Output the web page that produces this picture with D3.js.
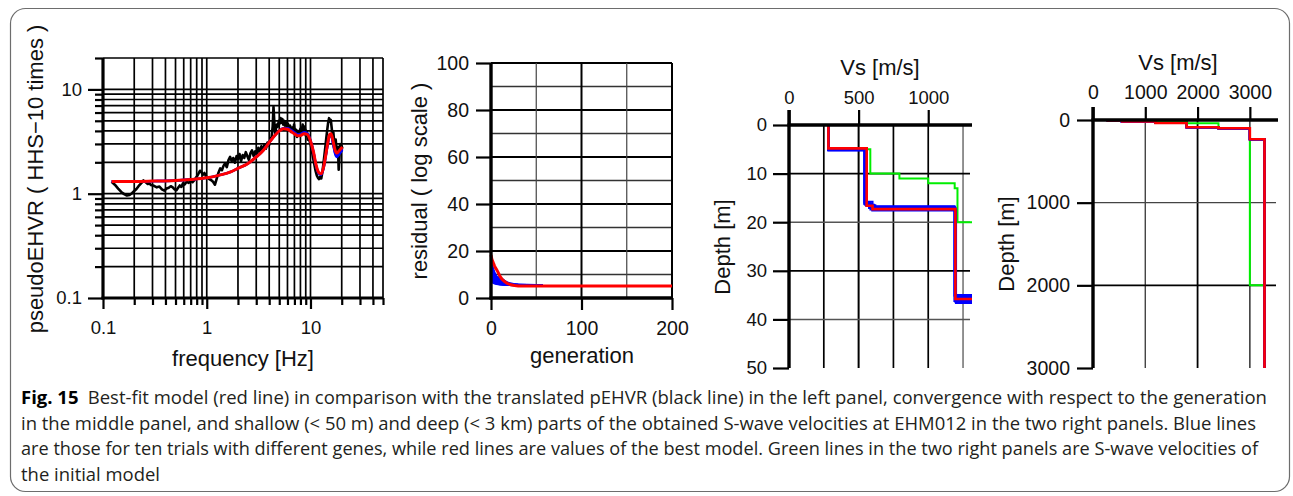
<!DOCTYPE html>
<html>
<head>
<meta charset="utf-8">
<script src="https://cdn.jsdelivr.net/npm/d3@7"></script>
<style>
  body { margin: 0; background: #fff; }
  svg { display: block; }
</style>
</head>
<body>
<svg id="fig" width="1293" height="496"></svg>
<script>
// ---------- Panel 1: pseudo EHVR vs frequency ----------
const hvFreq = [0.121,0.13,0.14,0.15,0.16,0.17,0.18,0.19,0.2,0.21,0.22,0.235,0.245,0.255,0.27,0.28,0.29,0.31,0.33,0.35,0.37,0.39,0.41,0.43,0.45,0.47,0.49,0.51,0.53,0.55,0.57,0.59,0.61,0.64,0.67,0.7,0.73,0.76,0.8,0.83,0.86,0.89,0.92,0.95,0.98,1.02,1.06,1.1,1.15,1.2,1.25,1.3,1.35,1.4,1.45,1.5,1.56,1.62,1.68,1.74,1.8,1.87,1.94,2.0,2.07,2.14,2.22,2.3,2.38,2.46,2.55,2.64,2.73,2.83,2.93,3.03,3.14,3.25,3.36,3.48,3.6,3.72,3.85,3.98,4.1,4.22,4.32,4.4,4.48,4.56,4.65,4.75,4.85,4.95,5.05,5.15,5.25,5.35,5.45,5.55,5.65,5.75,5.9,6.05,6.2,6.35,6.5,6.65,6.8,6.95,7.1,7.25,7.4,7.6,7.8,8.0,8.2,8.4,8.6,8.8,9.0,9.2,9.4,9.6,9.8,10.0,10.3,10.6,10.9,11.2,11.5,11.8,12.1,12.4,12.7,13.0,13.3,13.6,13.9,14.2,14.5,14.8,15.1,15.4,15.7,16.0,16.3,16.6,16.9,17.2,17.5,17.8,18.1,18.4,18.7,19.0,19.3,19.6,19.9,20.3];
const hvObserved = [1.30,1.22,1.12,1.04,0.99,0.96,0.97,1.01,1.06,1.11,1.18,1.27,1.34,1.30,1.24,1.26,1.21,1.19,1.15,1.17,1.10,1.07,1.12,1.14,1.18,1.15,1.10,1.08,1.14,1.20,1.16,1.26,1.22,1.30,1.27,1.33,1.29,1.35,1.45,1.55,1.66,1.60,1.52,1.58,1.48,1.42,1.38,1.35,1.30,1.22,1.40,1.60,1.75,1.68,1.85,1.95,1.80,2.10,2.25,2.05,2.20,1.98,2.30,2.15,2.40,2.05,2.35,2.20,2.50,2.30,2.10,2.45,2.60,2.30,2.55,2.40,2.75,2.50,2.85,2.60,2.95,2.70,3.10,2.90,3.30,3.50,4.40,6.80,4.90,3.80,4.20,4.60,4.40,5.00,4.70,5.30,4.80,5.20,4.60,5.00,4.50,4.90,4.40,4.70,4.20,4.50,3.90,4.30,4.00,4.60,3.70,4.10,3.50,4.00,3.60,4.20,3.90,4.60,4.00,4.40,3.60,4.00,3.30,3.50,3.20,3.00,2.60,2.20,1.90,1.65,1.50,1.42,1.38,1.45,1.40,1.60,1.90,2.30,2.80,3.40,4.10,4.80,5.30,4.90,5.10,4.30,3.60,3.90,3.20,2.90,3.30,2.70,2.40,2.80,1.70,2.20,3.00,2.50,2.90,2.70];
const fitFreq = [0.121,0.2,0.3,0.5,0.7,1.0,1.3,1.7,2.0,2.5,3.0,3.5,4.0,4.5,5.0,5.5,6.0,6.5,7.0,7.5,8.0,8.7,9.3,10.0,10.7,11.3,12.0,12.6,13.3,14.0,14.7,15.3,15.8,16.5,17.3,18.0,19.0,20.3];
const fitBest = [1.31,1.31,1.32,1.34,1.37,1.42,1.50,1.62,1.75,1.95,2.25,2.60,3.10,3.60,4.00,4.20,4.15,3.95,3.75,3.60,3.62,3.75,3.70,3.20,2.50,1.90,1.60,1.55,1.75,2.30,3.10,3.70,3.75,3.20,2.60,2.45,2.60,2.80];
const fitTrialA = [1.31,1.31,1.32,1.34,1.37,1.42,1.50,1.62,1.75,1.95,2.25,2.60,3.10,3.60,4.00,4.25,4.25,4.08,3.88,3.72,3.74,3.88,3.82,3.25,2.50,1.88,1.58,1.53,1.73,2.28,3.05,3.62,3.62,3.05,2.45,2.30,2.45,2.68];
const fitTrialB = [1.31,1.31,1.32,1.34,1.37,1.42,1.50,1.62,1.75,1.95,2.25,2.60,3.10,3.60,4.00,4.22,4.20,4.02,3.82,3.66,3.68,3.82,3.78,3.22,2.48,1.86,1.57,1.52,1.72,2.26,3.02,3.60,3.58,3.00,2.40,2.25,2.40,2.62];
const hvXTicks = [0.1, 1, 10];
const hvYTicks = [0.1, 1, 10];

// ---------- Panel 2: residual vs generation ----------
const bestGen = [0,1,2,3,4,5,6,8,10,12,15,18,22,26,30,200];
const bestResidual = [18.3,16.5,15.5,14.5,13.6,12.8,12.2,10.8,9.2,8.1,7.0,6.2,5.6,5.3,5.15,5.1];
const trialGen = [0,2,4,6,8,10,13,16,20,25,30,40,50,57];
const trialResidual = [
  [14.0,11.5,9.8,8.6,7.8,7.1,6.5,6.1,5.8,5.6,5.5,5.4,5.35,5.3],
  [12.5,10.2,8.7,7.6,6.9,6.4,6.0,5.8,5.6,5.5,5.45,5.4,5.35,5.35],
  [10.8,8.9,7.6,6.8,6.3,6.0,5.8,5.7,5.6,5.55,5.5,5.45,5.4,5.4],
  [9.2,7.8,6.9,6.3,6.0,5.9,5.8,5.7,5.65,5.6,5.55,5.5,5.45,5.45],
  [16.0,12.8,10.6,9.2,8.2,7.5,6.8,6.3,5.9,5.6,5.45,5.35,5.3,5.3],
  [8.0,7.0,6.5,6.2,6.0,5.9,5.8,5.75,5.7,5.65,5.6,5.55,5.5,5.5],
  [13.2,10.8,9.5,8.8,8.6,8.3,7.4,6.6,6.0,5.7,5.55,5.45,5.4,5.4],
  [11.6,9.6,8.1,7.2,6.6,6.2,5.9,5.7,5.55,5.45,5.4,5.35,5.3,5.3],
  [15.2,12.0,9.9,8.9,8.8,8.6,7.9,7.0,6.3,5.9,5.6,5.45,5.35,5.3],
  [7.2,6.6,6.2,6.0,5.9,5.8,5.75,5.7,5.65,5.6,5.55,5.5,5.5,5.5]
];
const genTicks = [0, 100, 200];
const residualTicks = [0, 20, 40, 60, 80, 100];

// ---------- Panels 3 & 4: S-wave velocity profiles ----------
// layer velocities [m/s] and layer bottom depths [m]; the last velocity is the half-space
const bestVs = [283, 558, 600, 1195, 1790, 2400, 3000, 3280];
const bestBottom = [4.8, 16.6, 17.3, 35.8, 88, 100, 233];
const initVs = [283, 584, 793, 1000, 1190, 1210, 1800, 2400, 3000, 3280];
const initBottom = [5, 10, 11, 12, 13, 20, 40, 100, 2000];
const trialVs = [
  [283, 540, 590, 1190, 1790, 2400, 3000, 3280],
  [283, 545, 575, 1195, 1790, 2400, 3000, 3280],
  [283, 550, 610, 1200, 1790, 2400, 3000, 3280],
  [283, 542, 600, 1188, 1790, 2400, 3000, 3280],
  [283, 553, 620, 1192, 1790, 2400, 3000, 3280],
  [283, 548, 585, 1198, 1790, 2400, 3000, 3280],
  [283, 544, 595, 1190, 1790, 2400, 3000, 3280],
  [283, 556, 605, 1196, 1790, 2400, 3000, 3280],
  [283, 547, 580, 1193, 1790, 2400, 3000, 3280],
  [283, 551, 598, 1199, 1790, 2400, 3000, 3280]
];
const trialBottom = [
  [5.2, 16.2, 16.8, 35.0, 88, 100, 233],
  [5.0, 16.0, 17.1, 35.3, 88, 100, 233],
  [5.1, 16.4, 17.5, 36.5, 88, 100, 233],
  [5.2, 15.8, 16.7, 36.2, 88, 100, 233],
  [5.0, 16.5, 17.0, 35.6, 88, 100, 233],
  [5.1, 16.1, 17.4, 36.0, 88, 100, 233],
  [5.2, 16.3, 16.9, 35.2, 88, 100, 233],
  [5.0, 16.6, 17.2, 36.4, 88, 100, 233],
  [5.1, 15.9, 17.0, 35.5, 88, 100, 233],
  [5.0, 16.4, 17.6, 36.6, 88, 100, 233]
];
const shallowVsTicks = [0, 500, 1000];
const shallowDepthTicks = [0, 10, 20, 30, 40, 50];
const deepVsTicks = [0, 1000, 2000, 3000];
const deepDepthTicks = [0, 1000, 2000, 3000];

const captionHead = "Fig. 15";
const captionFirst = "Best-fit model (red line) in comparison with the translated pEHVR (black line) in the left panel, convergence with respect to the generation";
const captionLines = [
  "in the middle panel, and shallow (< 50 m) and deep (< 3 km) parts of the obtained S-wave velocities at EHM012 in the two right panels. Blue lines",
  "are those for ten trials with different genes, while red lines are values of the best model. Green lines in the two right panels are S-wave velocities of",
  "the initial model"
];

// ---------- drawing ----------
const svg = d3.select("#fig");
const FONT = "'Liberation Sans', Arial, sans-serif";
const LABEL = 22;
const intFmt = d3.format("d");

// outer frame
svg.append("rect").attr("x", 10.5).attr("y", 8.5).attr("width", 1279).attr("height", 483)
  .attr("rx", 15).attr("fill", "none").attr("stroke", "#6d6d6d").attr("stroke-width", 1.2);

function styleAxis(g, size, width) {
  g.select(".domain").remove();
  g.selectAll("line").attr("stroke", "#000").attr("stroke-width", width || 2.2);
  g.selectAll("text").attr("fill", "#111").style("font-family", FONT).style("font-size", size + "px");
}
function hline(g, x1, x2, y, w, c) {
  g.append("line").attr("x1", x1).attr("x2", x2).attr("y1", y).attr("y2", y)
    .attr("stroke", c || "#000").attr("stroke-width", w);
}
function vline(g, x, y1, y2, w, c) {
  g.append("line").attr("x1", x).attr("x2", x).attr("y1", y1).attr("y2", y2)
    .attr("stroke", c || "#000").attr("stroke-width", w);
}
function label(g, txt, x, y, rotate) {
  const t = g.append("text").text(txt).attr("text-anchor", "middle")
    .style("font-family", FONT).style("font-size", LABEL + "px").attr("fill", "#111");
  if (rotate) t.attr("transform", `translate(${x},${y}) rotate(-90)`);
  else t.attr("x", x).attr("y", y);
  return t;
}

// ===== Panel 1 =====
{
  const g = svg.append("g");
  const x = d3.scaleLog().domain([0.1, 50]).range([103, 383]);
  const y = d3.scaleLog().domain([0.1, 20]).range([298, 58]);
  const [x0, x1] = x.range(), [y0, y1] = y.range();

  x.ticks().forEach(v => vline(g, x(v), y1, y0, 1.7));
  y.ticks().forEach(v => hline(g, x0, x1, y(v), 1.7));

  const minorX = x.ticks().filter(v => !hvXTicks.includes(v));
  const minorY = y.ticks().filter(v => !hvYTicks.includes(v));

  g.append("g").attr("transform", `translate(0,${y0})`)
    .call(d3.axisBottom(x).tickValues(minorX).tickSize(7).tickFormat(""))
    .call(a => styleAxis(a, 18.5));
  g.append("g").attr("transform", `translate(0,${y0})`)
    .call(d3.axisBottom(x).tickValues(hvXTicks).tickSize(11).tickPadding(12).tickFormat(d3.format("~g")))
    .call(a => styleAxis(a, 18.5));
  g.append("g").attr("transform", `translate(${x0},0)`)
    .call(d3.axisLeft(y).tickValues(minorY).tickSize(8).tickFormat(""))
    .call(a => styleAxis(a, 18.5));
  g.append("g").attr("transform", `translate(${x0},0)`)
    .call(d3.axisLeft(y).tickValues(hvYTicks).tickSize(15).tickPadding(6).tickFormat(d3.format("~g")))
    .call(a => styleAxis(a, 18.5));

  vline(g, x0, y1, y0 + 1.5, 3.2);
  hline(g, x0 - 1.5, x1, y0, 3.2);

  const obs = hvFreq.map((f, i) => [f, hvObserved[i]]);
  const line = d3.line().x(d => x(d[0])).y(d => y(d[1]));
  const smooth = d3.line().x(d => x(d[0])).y(d => y(d[1])).curve(d3.curveMonotoneX);
  g.append("path").attr("d", line(obs)).attr("fill", "none").attr("stroke", "#000")
    .attr("stroke-width", 2.6).attr("stroke-linejoin", "round");
  [fitTrialA, fitTrialB].forEach(tr => {
    g.append("path").attr("d", smooth(fitFreq.map((f, i) => [f, tr[i]])))
      .attr("fill", "none").attr("stroke", "#0000ff").attr("stroke-width", 2.4);
  });
  g.append("path").attr("d", smooth(fitFreq.map((f, i) => [f, fitBest[i]])))
    .attr("fill", "none").attr("stroke", "#ff0000").attr("stroke-width", 3);

  label(g, "frequency [Hz]", 243, 366);
  label(g, "pseudoEHVR ( HHS\u221210 times )", 43, 179, true);
}

// ===== Panel 2 =====
{
  const g = svg.append("g");
  const x = d3.scaleLinear().domain([0, 200]).range([491, 672]);
  const y = d3.scaleLinear().domain([0, 100]).range([298, 63]);
  const [x0, x1] = x.range(), [y0, y1] = y.range();

  d3.range(10, 101, 10).forEach(v => hline(g, x0, x1, y(v), v % 20 === 0 ? 2 : 1.3, v % 20 === 0 ? "#000" : "#333"));
  d3.range(50, 201, 50).forEach(v => vline(g, x(v), y1, y0, v % 100 === 0 ? 2 : 1.2, v % 100 === 0 ? "#000" : "#444"));

  g.append("g").attr("transform", `translate(${x0},0)`)
    .call(d3.axisLeft(y).tickValues(residualTicks).tickSize(15).tickPadding(7))
    .call(a => styleAxis(a, 19.5));
  g.append("g").attr("transform", `translate(0,${y0})`)
    .call(d3.axisBottom(x).tickValues(genTicks).tickSize(12).tickPadding(11))
    .call(a => styleAxis(a, 19.5));

  const line = d3.line().x(d => x(d[0])).y(d => y(d[1]));
  trialResidual.forEach(tr => {
    g.append("path").attr("d", line(trialGen.map((gn, i) => [gn, tr[i]])))
      .attr("fill", "none").attr("stroke", "#0000ff").attr("stroke-width", 2.2);
  });
  g.append("path").attr("d", line(bestGen.map((gn, i) => [gn, bestResidual[i]])))
    .attr("fill", "none").attr("stroke", "#ff0000").attr("stroke-width", 3);

  vline(g, x0, y1, y0 + 1.5, 3.4);
  hline(g, x0 - 1.5, x1 + 1, y0, 3.4);

  label(g, "generation", 582, 363);
  label(g, "residual ( log scale )", 427, 181, true);
}

// step path for a layered velocity profile
function profilePath(x, y, vs, bottom, maxDepth) {
  let d = `M${x(vs[0])},${y(0)}`;
  for (let i = 0; i < vs.length; i++) {
    const z = i < bottom.length ? bottom[i] : maxDepth;
    d += `V${y(z)}`;
    if (i + 1 < vs.length) d += `H${x(vs[i + 1])}`;
  }
  return d;
}

function profilePanel(opt) {
  const g = svg.append("g");
  const x = d3.scaleLinear().domain(opt.xDomain).range(opt.xRange);
  const y = d3.scaleLinear().domain(opt.yDomain).range(opt.yRange);
  const [x0, x1] = x.range(), [y0, y1] = y.range();

  opt.vGrid.forEach(([v, w, c]) => vline(g, x(v), y0, y1, w, c));
  opt.hGrid.forEach(([v, w, c]) => hline(g, x0, x1, y(v), w, c));

  g.append("g").attr("transform", `translate(0,${y0})`)
    .call(d3.axisTop(x).tickValues(opt.xTicks).tickSize(opt.topTick).tickPadding(opt.topPad).tickFormat(intFmt))
    .call(a => styleAxis(a, opt.tickFont));
  g.append("g").attr("transform", `translate(${x0},0)`)
    .call(d3.axisLeft(y).tickValues(opt.yTicks).tickSize(16).tickPadding(opt.leftPad).tickFormat(intFmt))
    .call(a => styleAxis(a, opt.tickFont));

  const clipId = opt.id + "-clip";
  g.append("clipPath").attr("id", clipId).append("rect")
    .attr("x", x0).attr("y", y0 - 2).attr("width", x1 - x0 + 2).attr("height", y1 - y0 + 2);
  const data = g.append("g").attr("clip-path", `url(#${clipId})`);
  const maxDepth = opt.yDomain[1] * 1.1;

  data.append("path").attr("d", profilePath(x, y, initVs, initBottom, maxDepth))
    .attr("fill", "none").attr("stroke", "#00ee00").attr("stroke-width", 2);
  trialVs.forEach((vs, i) => {
    data.append("path").attr("d", profilePath(x, y, vs, trialBottom[i], maxDepth))
      .attr("fill", "none").attr("stroke", "#0000ff").attr("stroke-width", 2);
  });
  data.append("path").attr("d", profilePath(x, y, bestVs, bestBottom, maxDepth))
    .attr("fill", "none").attr("stroke", "#ff0000").attr("stroke-width", 2.6);

  hline(g, x0 - 1.5, x1 + 2, y0, 3.4);
  vline(g, x0, y0 - opt.topTick, y1, 3.4);

  label(g, "Vs [m/s]", opt.vsLabel[0], opt.vsLabel[1]);
  label(g, "Depth [m]", opt.depthLabel[0], opt.depthLabel[1], true);
}

// ===== Panel 3: shallow part =====
profilePanel({
  id: "shallow",
  xDomain: [0, 1300], xRange: [789, 970],
  yDomain: [0, 50], yRange: [125, 368],
  xTicks: shallowVsTicks, yTicks: shallowDepthTicks,
  vGrid: [[250, 1.7, "#000"], [500, 2, "#000"], [750, 1.7, "#000"], [1000, 1.7, "#000"], [1250, 1.6, "#777"]],
  hGrid: [[10, 1.8, "#000"], [20, 1.5, "#555"], [30, 1.8, "#000"], [40, 1.5, "#555"]],
  topTick: 15, topPad: 6, leftPad: 6, tickFont: 18.5,
  vsLabel: [880, 75], depthLabel: [730, 247]
});

// ===== Panel 4: deep part =====
profilePanel({
  id: "deep",
  xDomain: [0, 3500], xRange: [1093, 1276],
  yDomain: [0, 3000], yRange: [120, 368],
  xTicks: deepVsTicks, yTicks: deepDepthTicks,
  vGrid: [[1000, 1.4, "#444"], [2000, 1.8, "#000"], [3000, 1.5, "#333"]],
  hGrid: [[1000, 1.4, "#444"], [2000, 1.8, "#000"]],
  topTick: 13, topPad: 8, leftPad: 7, tickFont: 19.5,
  vsLabel: [1178, 70], depthLabel: [1014, 244]
});

// ===== Caption =====
{
  const g = svg.append("g").style("font-family", "'Open Sans', 'Noto Sans', sans-serif").attr("fill", "#231f20");
  const left = 21, base = 17;
  const ends = [1267, 1256, 1258, 160];
  const t1 = g.append("text").attr("x", left).attr("y", 404).style("font-size", base + "px");
  t1.append("tspan").text(captionHead).style("font-weight", "bold").attr("fill", "#000");
  t1.append("tspan").text("\u2002" + captionFirst);
  const w = t1.node().getComputedTextLength();
  const fs = base * (ends[0] - left) / w;
  t1.style("font-size", fs + "px");
  captionLines.forEach((s, i) => {
    g.append("text").attr("x", left).attr("y", 429.5 + i * 25.8).style("font-size", fs + "px")
      .attr("textLength", ends[i + 1] - left).attr("lengthAdjust", "spacingAndGlyphs").text(s);
  });
}
</script>
</body>
</html>
